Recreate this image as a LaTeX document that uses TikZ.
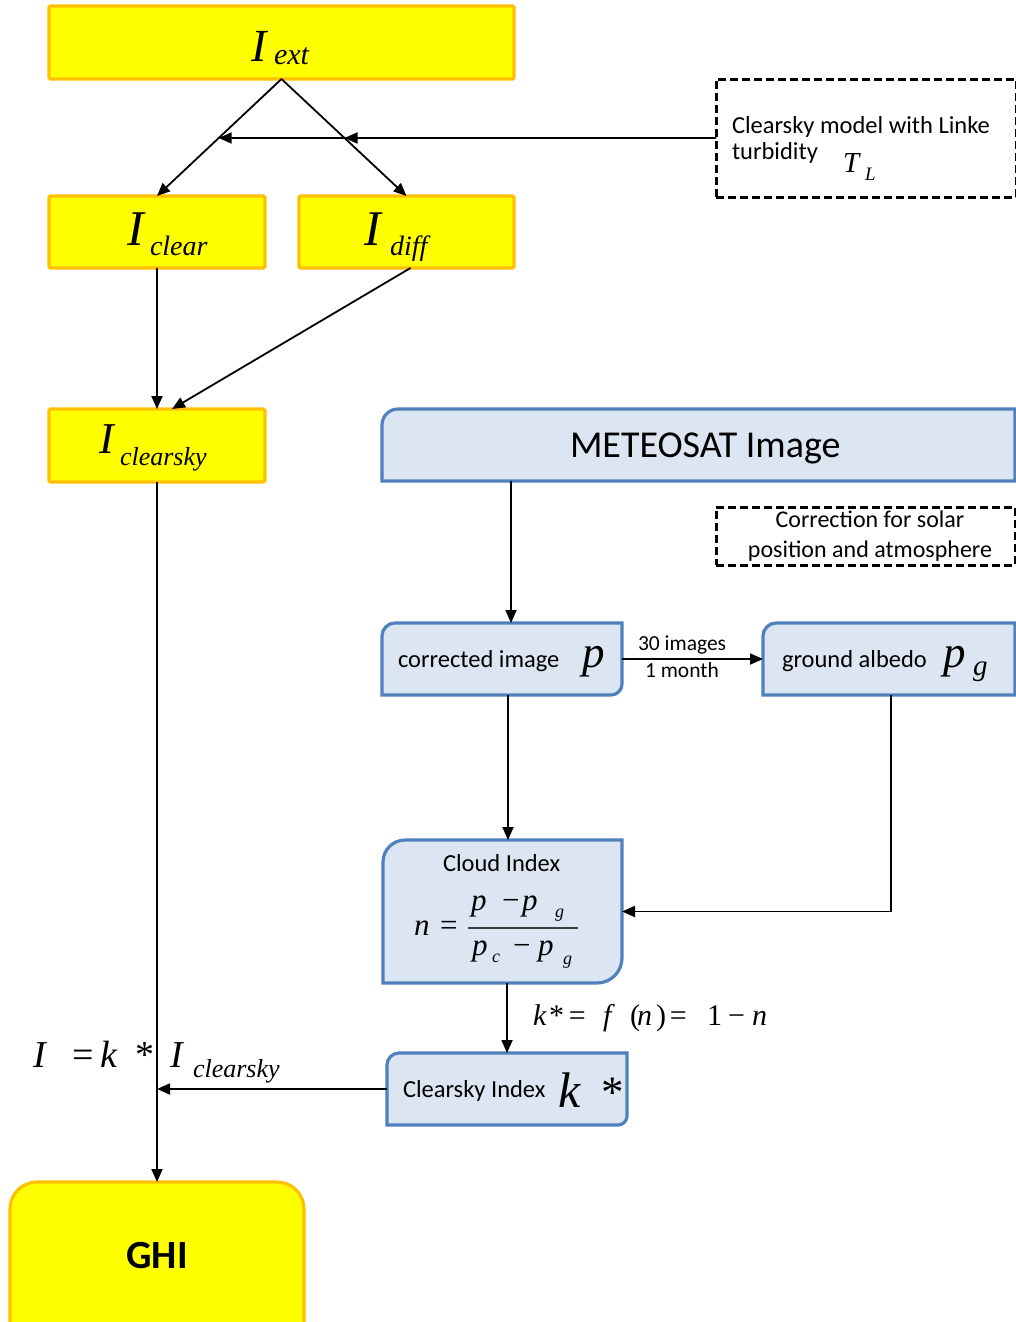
\documentclass[tikz,border=0pt]{standalone}
\usepackage{fontspec}
\setmainfont{Carlito}
\newfontfamily\tms{Liberation Serif}
\usetikzlibrary{arrows.meta,calc}
\newcommand\fs[1]{\fontsize{#1}{#1}\selectfont}
\newcommand\pos[2]{\makebox[0pt][l]{\hspace*{#1pt}#2}}
\newcommand\mi[1]{{\tms\itshape #1}}
\newcommand\mr[1]{{\tms #1}}
\definecolor{yel}{HTML}{FFFF00}
\definecolor{orangeB}{HTML}{FFC000}
\definecolor{blueB}{HTML}{4F81BD}
\definecolor{blueF}{HTML}{DCE6F2}
% #1 name, #2 style, #3 x1, #4 y1, #5 x2, #6 y2, #7 top-left radius, #8 bottom-right radius
\newcommand\diagbox[8]{%
  \path[#2] (#3,#6) -- (#3,#4+#7) .. controls (#3,#4+0.448*#7) and (#3+0.448*#7,#4) .. (#3+#7,#4)
    -- (#5,#4) -- (#5,#6-#8) .. controls (#5,#6-0.448*#8) and (#5-0.448*#8,#6) .. (#5-#8,#6) -- cycle;
  \node[inner sep=0pt,outer sep=0pt,minimum width={(#5-#3)*1pt},minimum height={(#6-#4)*1pt},anchor=north west] (#1) at (#3,#4) {};}
\tikzset{
  ybox/.style={draw=orangeB, fill=yel, line width=3.2pt, rounded corners=1.5pt, inner sep=0pt, outer sep=0pt, anchor=north west},
  bbox/.style={draw=blueB, fill=blueF, line width=3.2pt},
  dbox/.style={draw=black, dash pattern=on 8pt off 4pt, line width=3pt, inner sep=0pt, outer sep=0pt, anchor=north west},
  arr/.style={-{Triangle[length=13pt,width=11pt]}, line width=1.8pt},
  txt/.style={inner sep=0pt, outer sep=0pt, anchor=base west},
  ctxt/.style={inner sep=0pt, outer sep=0pt, anchor=base},
}
\begin{document}
\begin{tikzpicture}[x=1pt,y=-1pt]
\useasboundingbox (0,0) rectangle (1016,1322);
\fill[white] (0,0) rectangle (1016,1322);
\clip (0,0) rectangle (1016,1322);

% ---------- yellow boxes ----------
\node[ybox, minimum width=465pt, minimum height=73pt] (iext) at (49,6) {};
\node[ybox, minimum width=216pt, minimum height=72pt] (iclear) at (49,196) {};
\node[ybox, minimum width=215pt, minimum height=72pt] (idiff) at (299,196) {};
\node[ybox, minimum width=216pt, minimum height=73pt] (icsky) at (49,409) {};
\node[draw=orangeB, fill=yel, line width=3.2pt, rounded corners=27pt, minimum width=294pt, minimum height=180pt, anchor=north west, outer sep=0pt, inner sep=0pt] (ghi) at (10,1182) {};

% ---------- dashed boxes ----------
\node[dbox, minimum width=300pt, minimum height=118pt] (dash1) at (716,79) {};
\node[dbox, minimum width=299pt, minimum height=58pt] (dash2) at (716,507) {};

% ---------- blue boxes ----------
\diagbox{meteo}{bbox}{382}{409}{1015}{481}{16}{0}
\diagbox{corr}{bbox}{382}{623}{622}{695}{13}{11}
\diagbox{albedo}{bbox}{763}{623}{1015}{695}{13}{0}
\diagbox{cloud}{bbox}{383}{840}{622}{983}{22}{25}
\diagbox{ckidx}{bbox}{387}{1053}{627}{1125}{12}{9}

% ---------- texts ----------
\node[txt] (t1) at (251,62) {\fs{46}\mi{I}};
\node[txt] (t1s) at (274,65) {\fs{30}\mi{ext}};
\node[txt] (t2) at (127,245) {\fs{50}\mi{I}};
\node[txt] (t2s) at (150,255) {\fs{28}\mi{clear}};
\node[txt] (t3) at (364,245) {\fs{50}\mi{I}};
\node[txt] (t3s) at (390,255) {\fs{28}\mi{diff}};
\node[txt] (t4) at (99,453) {\fs{44}\mi{I}};
\node[txt] (t4s) at (120,465) {\fs{26}\mi{clearsky}};

\node[txt] (d1a) at (732,133) {\fs{24.5}Clearsky model with Linke};
\node[txt] (d1b) at (732,159) {\fs{24.5}turbidity};
\node[txt] (d1T) at (843,172) {\fs{29}\mi{T}};
\node[txt] (d1L) at (865,180) {\fs{19}\mi{L}};

\node[txt] (tmeteo) at (570,457) {\fs{38}METEOSAT Image};
\node[ctxt] (d2a) at (870,527) {\fs{24}Correction for solar};
\node[ctxt] (d2b) at (870,557) {\fs{24}position and atmosphere};

\node[txt] (tcorr) at (398,667) {\fs{24.5}corrected image};
\node[txt] (tp) at (582,667) {\fs{45}\mi{p}};
\node[txt] (t30) at (638,650) {\fs{21.5}30 images};
\node[txt] (tmonth) at (645,677) {\fs{21.5}1 month};
\node[txt] (talb) at (782,667) {\fs{24.5}ground albedo};
\node[txt] (tpg) at (943,667) {\fs{45}\mi{p}};
\node[txt] (tpgs) at (973,675) {\fs{29}\mi{g}};

\node[txt] (tcloud) at (443,871) {\fs{24.5}Cloud Index};
\node[txt] (tn) at (414,935) {\fs{31}\pos{0}{\mi{n}}\pos{26}{\mr{=}}\hspace*{45pt}};
\node[txt] (tnum) at (471,910) {\fs{31}\pos{0}{\mi{p}}\pos{31}{\mr{−}}\pos{51}{\mi{p}}\pos{84}{\raisebox{-7pt}{\fs{18}\mi{g}}}\hspace*{95pt}};
\node[txt] (tden) at (472,955) {\fs{31}\pos{0}{\mi{p}}\pos{20}{\raisebox{-7pt}{\fs{18}\mi{c}}}\pos{41}{\mr{−}}\pos{66}{\mi{p}}\pos{91}{\raisebox{-9pt}{\fs{18}\mi{g}}}\hspace*{100pt}};
\draw[line width=1.2pt, black!75] (468,928) -- (578,928);

\node[txt] (tckidx) at (403,1097) {\fs{24.5}Clearsky Index};
\node[txt] (tk) at (558,1107) {\fs{50}\mi{k}};
\node[txt] (tks) at (601,1107) {\fs{45}\mr{*}};

\node[txt] (tkf) at (533,1025) {\fs{30}\pos{0}{\mi{k}}\pos{16}{\mr{*}}\pos{36}{\mr{=}}\pos{70}{\mi{f}}\pos{97}{\mr{(}}\pos{104}{\mi{n}}\pos{123}{\mr{)}}\pos{137}{\mr{=}}\pos{174}{\mr{1}}\pos{195}{\mr{−}}\pos{219}{\mi{n}}\hspace*{234pt}};

\node[txt] (tI) at (33,1067) {\fs{38}\pos{0}{\mi{I}}\pos{39}{\mr{=}}\pos{67}{\mi{k}}\pos{102}{\mr{*}}\pos{137}{\mi{I}}\pos{160}{\raisebox{-10pt}{\fs{26}\mi{clearsky}}}\hspace*{245pt}};

\node[ctxt] (tghi) at (157,1268) {\fs{40}\bfseries GHI};

% ---------- connectors ----------
\coordinate (hz) at (0,138);
\coordinate (xl) at (intersection of iext.south--iclear.north and dash1.west--hz);
\coordinate (xr) at (intersection of iext.south--idiff.north and dash1.west--hz);
\draw[arr] (iext.south) -- (iclear.north);
\draw[arr] (iext.south) -- (idiff.north);
\draw[arr] (dash1.west) -- (xl);
\draw[arr] (dash1.west) -- (xr);
\draw[arr] (iclear.south) -- (icsky.north);
\draw[arr] ($(idiff.south)+(4,0)$) -- ($(icsky.north)+(15,0)$);
\draw[arr] (icsky.south) -- (ghi.north);
\draw[arr] (ckidx.west) -- (icsky.south |- ckidx.west);

\coordinate (corrIn) at ($(corr.north)+(9,0)$);
\draw[arr] (corrIn |- meteo.south) -- (corrIn);
\draw[arr] (corr.east) -- (corr.east -| albedo.west);
\coordinate (cloudIn) at ($(corr.south)+(6,0)$);
\draw[arr] (cloudIn) -- (cloudIn |- cloud.north);
\draw[arr] ($(albedo.south)+(2,0)$) |- (cloud.east);
\draw[arr] (ckidx.north |- cloud.south) -- (ckidx.north);
\end{tikzpicture}
\end{document}
